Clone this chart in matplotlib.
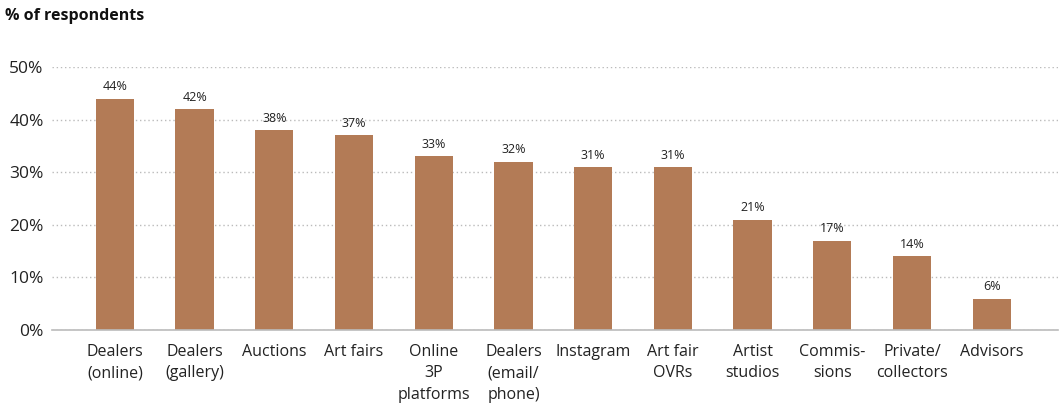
import matplotlib
matplotlib.use("Agg")
import matplotlib.pyplot as plt

# ==========================================================
# Data
# ==========================================================

categories = [
    "Dealers\n(online)",
    "Dealers\n(gallery)",
    "Auctions",
    "Art fairs",
    "Online\n3P\nplatforms",
    "Dealers\n(email/\nphone)",
    "Instagram",
    "Art fair\nOVRs",
    "Artist\nstudios",
    "Commis-\nsions",
    "Private/\ncollectors",
    "Advisors",
]

values = [44, 42, 38, 37, 33, 32, 31, 31, 21, 17, 14, 6]

y_ticks = [0, 10, 20, 30, 40, 50]

bar_color = "#B37B56"

plt.rcParams["font.family"] = ["Open Sans", "DejaVu Sans"]

# ==========================================================
# Plot
# ==========================================================

fig = plt.figure(figsize=(10.6, 4.2), dpi=100)
ax = fig.add_axes([0.049, 0.214, 0.949, 0.6265])

x = list(range(len(categories)))

bars = ax.bar(x, values, width=0.48, color=bar_color, zorder=3)

for xi, v in zip(x, values):
    ax.text(xi, v + 1.0, f"{v}%", ha="center", va="bottom",
            fontsize=9, color="#222222")

ax.set_xlim(-0.79, 11.83)
ax.set_ylim(0, 50)

ax.set_yticks(y_ticks)
ax.set_yticklabels([f"{t}%" for t in y_ticks], fontsize=12.5, color="#222222")

ax.set_xticks(x)
ax.set_xticklabels(categories, fontsize=11.5, color="#222222",
                   linespacing=1.45, va="top")

ax.tick_params(axis="both", length=0)
ax.tick_params(axis="y", pad=6)
ax.tick_params(axis="x", pad=10)

ax.grid(axis="y", linestyle=(0, (1, 2)), color="#BBBBBB", linewidth=1, zorder=0)

for side in ["top", "right", "left"]:
    ax.spines[side].set_visible(False)

ax.spines["bottom"].set_color("#BBBBBB")
ax.spines["bottom"].set_linewidth(1.2)
ax.spines["bottom"].set_zorder(4)

fig.text(0.005, 0.963, "% of respondents", fontsize=11.5,
         fontweight="bold", ha="left", va="center", color="#111111")

plt.savefig("out.png", dpi=100)
plt.close()
